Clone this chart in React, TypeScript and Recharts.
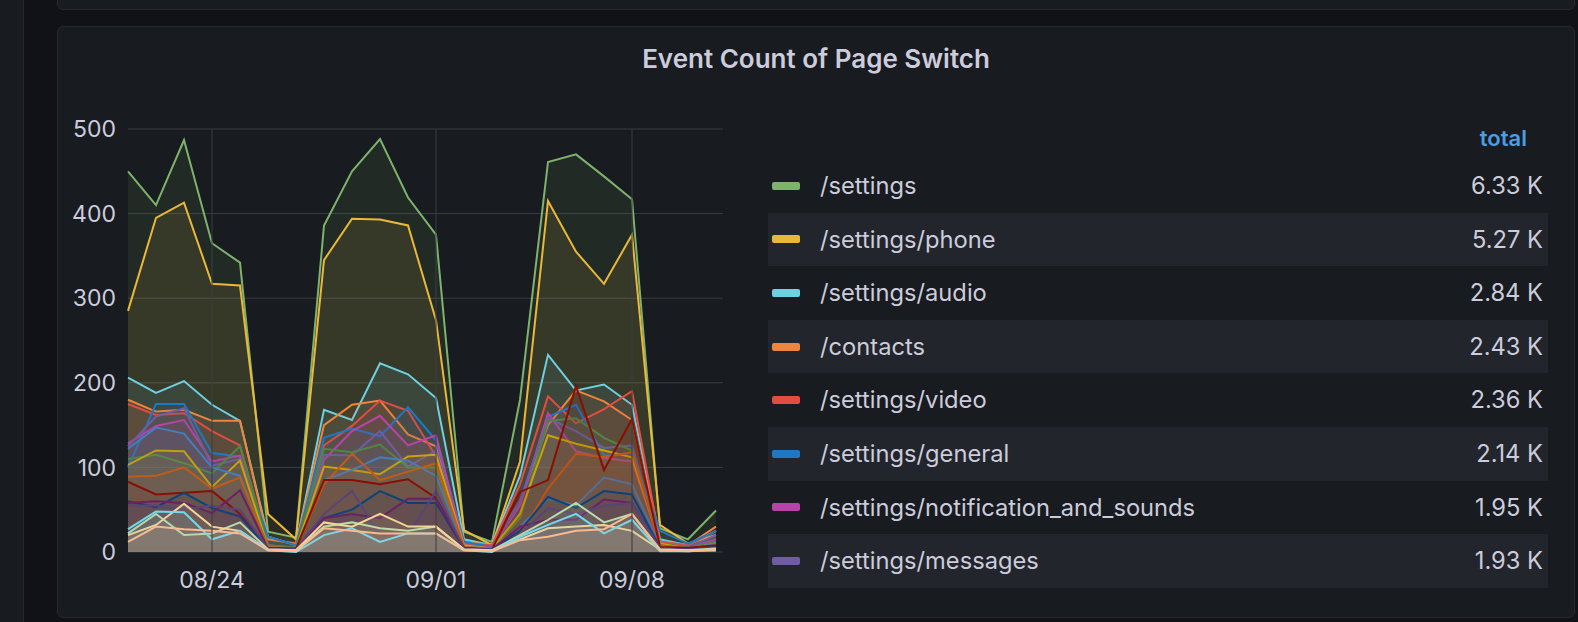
import React from 'react';
import { AreaChart, Area, XAxis, YAxis, CartesianGrid, ReferenceLine } from 'recharts';

const dates = [
  '08/21', '08/22', '08/23', '08/24', '08/25', '08/26', '08/27', '08/28', '08/29', '08/30', '08/31',
  '09/01', '09/02', '09/03', '09/04', '09/05', '09/06', '09/07', '09/08', '09/09', '09/10', '09/11',
];
const xTicks = ['08/24', '09/01', '09/08'];
const yTicks = [0, 100, 200, 300, 400, 500];

// legend series
const settings = [450, 410, 487, 365, 342, 24, 17, 386, 450, 488, 419, 375, 24, 12, 180, 461, 470, 444, 417, 28, 15, 49];
const settingsPhone = [285, 395, 413, 317, 315, 45, 15, 345, 394, 393, 386, 274, 26, 8, 107, 415, 355, 317, 375, 32, 10, 20];
const settingsAudio = [206, 188, 202, 174, 155, 18, 8, 168, 156, 223, 210, 182, 15, 8, 90, 233, 191, 198, 174, 15, 8, 25];
const contacts = [180, 166, 168, 155, 155, 15, 10, 150, 174, 179, 139, 125, 12, 8, 60, 150, 191, 178, 156, 12, 8, 30];
const settingsVideo = [175, 162, 164, 143, 126, 8, 5, 126, 149, 179, 167, 113, 10, 8, 80, 184, 152, 169, 190, 12, 8, 25];
const settingsGeneral = [100, 175, 175, 117, 113, 18, 8, 135, 146, 137, 171, 132, 12, 6, 60, 160, 174, 114, 117, 25, 10, 25];
const settingsNotif = [128, 149, 156, 107, 114, 6, 5, 109, 143, 161, 126, 138, 8, 5, 55, 164, 119, 111, 107, 10, 5, 15];
const settingsMessages = [125, 160, 170, 102, 110, 6, 4, 115, 114, 143, 101, 120, 6, 4, 60, 158, 143, 123, 126, 10, 5, 20];

// series below the visible part of the legend
const other1 = [110, 115, 105, 93, 125, 8, 5, 122, 118, 127, 100, 100, 6, 4, 40, 155, 158, 135, 120, 10, 5, 12];
const other2 = [103, 120, 119, 77, 108, 6, 4, 101, 97, 92, 113, 115, 8, 4, 45, 138, 128, 120, 112, 10, 4, 10];
const other3 = [122, 147, 140, 100, 90, 6, 4, 85, 97, 112, 108, 90, 6, 4, 30, 63, 55, 88, 80, 8, 4, 10];
const other4 = [89, 90, 100, 75, 88, 6, 4, 80, 116, 85, 95, 105, 6, 4, 20, 75, 116, 112, 118, 8, 4, 8];
const other5 = [83, 68, 70, 72, 45, 5, 4, 85, 85, 80, 86, 64, 5, 3, 71, 85, 196, 97, 157, 6, 5, 8];
const other6 = [60, 53, 70, 52, 42, 4, 3, 40, 50, 72, 58, 58, 4, 3, 25, 65, 52, 72, 68, 5, 3, 6];
const other7 = [58, 60, 58, 46, 73, 4, 3, 40, 45, 40, 63, 63, 4, 3, 30, 38, 38, 62, 58, 5, 3, 5];
const other8 = [55, 55, 50, 55, 50, 4, 3, 45, 72, 20, 20, 72, 4, 3, 20, 52, 45, 55, 58, 4, 3, 5];
const other9 = [22, 45, 20, 22, 35, 3, 2, 30, 35, 28, 25, 30, 3, 2, 20, 38, 58, 35, 45, 3, 2, 4];
const other10 = [20, 32, 57, 30, 25, 3, 2, 35, 30, 45, 30, 30, 3, 2, 15, 28, 30, 32, 25, 3, 2, 3];
const other11 = [27, 48, 47, 15, 25, 2, 0, 20, 28, 12, 22, 22, 2, 0, 18, 32, 45, 22, 38, 1, 1, 2];
const other12 = [12, 30, 27, 25, 22, 2, 1, 28, 25, 22, 22, 22, 2, 1, 14, 18, 25, 27, 45, 2, 1, 3];

const legendTotals = ['6.33 K', '5.27 K', '2.84 K', '2.43 K', '2.36 K', '2.14 K', '1.95 K', '1.93 K'];

const series = [
  { key: 's0', name: '/settings', color: '#7EB26D', values: settings },
  { key: 's1', name: '/settings/phone', color: '#EAB839', values: settingsPhone },
  { key: 's2', name: '/settings/audio', color: '#6ED0E0', values: settingsAudio },
  { key: 's3', name: '/contacts', color: '#EF843C', values: contacts },
  { key: 's4', name: '/settings/video', color: '#E24D42', values: settingsVideo },
  { key: 's5', name: '/settings/general', color: '#1F78C1', values: settingsGeneral },
  { key: 's6', name: '/settings/notification_and_sounds', color: '#BA43A9', values: settingsNotif },
  { key: 's7', name: '/settings/messages', color: '#705DA0', values: settingsMessages },
  { key: 's8', name: 'other1', color: '#508642', values: other1 },
  { key: 's9', name: 'other2', color: '#CCA300', values: other2 },
  { key: 's10', name: 'other3', color: '#447EBC', values: other3 },
  { key: 's11', name: 'other4', color: '#C15C17', values: other4 },
  { key: 's12', name: 'other5', color: '#890F02', values: other5 },
  { key: 's13', name: 'other6', color: '#0A437C', values: other6 },
  { key: 's14', name: 'other7', color: '#6D1F62', values: other7 },
  { key: 's15', name: 'other8', color: '#584477', values: other8 },
  { key: 's16', name: 'other9', color: '#B7DBAB', values: other9 },
  { key: 's17', name: 'other10', color: '#F4D598', values: other10 },
  { key: 's18', name: 'other11', color: '#70DBED', values: other11 },
  { key: 's19', name: 'other12', color: '#F9BA8F', values: other12 },
];

const data = dates.map((d, i) => {
  const row: Record<string, number | string> = { date: d };
  series.forEach((s) => { row[s.key] = s.values[i]; });
  return row;
});

const FONT = 'Inter, "Noto Sans", sans-serif';
const TEXT = '#ccccdc';
const GRID = '#3a3c42';

const panel: React.CSSProperties = {
  position: 'absolute',
  background: '#181b1f',
  border: '1px solid #26282d',
  borderRadius: 6,
  boxSizing: 'border-box',
};

export default function App() {
  return (
    <div style={{ position: 'absolute', left: 0, top: 0, width: 1578, height: 622, background: '#111217', overflow: 'hidden', fontFamily: FONT }}>
      <div style={{ position: 'absolute', left: 0, top: 0, width: 23, height: 622, background: '#181b1f', borderRight: '1px solid #24262b' }} />
      <div style={{ ...panel, left: 57, top: -12, width: 1518, height: 22 }} />
      <div style={{ ...panel, left: 57, top: 26, width: 1518, height: 592 }} />

      <div style={{ position: 'absolute', left: 57, width: 1518, top: 43, textAlign: 'center', color: TEXT, fontSize: 26, fontWeight: 600, lineHeight: '32px' }}>
        Event Count of Page Switch
      </div>

      <div style={{ position: 'absolute', left: 0, top: 0 }}>
        <AreaChart width={760} height={622} data={data} margin={{ top: 129, right: 37, bottom: 30, left: 68 }}>
          <CartesianGrid stroke={GRID} strokeWidth={1} vertical={false} />
          {xTicks.map((t) => (
            <ReferenceLine key={t} x={t} stroke={GRID} strokeWidth={1} />
          ))}
          <XAxis
            dataKey="date"
            ticks={xTicks}
            interval={0}
            height={40}
            tickSize={0}
            tickMargin={20}
            axisLine={false}
            tickLine={false}
            padding={{ left: 0, right: 7 }}
            tick={{ fill: TEXT, fontSize: 23, fontFamily: FONT }}
          />
          <YAxis
            type="number"
            domain={[0, 500]}
            ticks={yTicks}
            width={60}
            tickSize={0}
            tickMargin={12}
            axisLine={false}
            tickLine={false}
            tick={{ fill: TEXT, fontSize: 23, fontFamily: FONT }}
          />
          {series.map((s) => (
            <Area
              key={s.key}
              type="linear"
              dataKey={s.key}
              name={s.name}
              stroke={s.color}
              strokeWidth={2}
              fill={s.color}
              fillOpacity={0.1}
              dot={false}
              activeDot={false}
              isAnimationActive={false}
            />
          ))}
        </AreaChart>
      </div>

      <div style={{ position: 'absolute', left: 1300, width: 227, top: 124, textAlign: 'right', color: '#4a9ee6', fontSize: 22, fontWeight: 600, lineHeight: '28px' }}>
        total
      </div>
      {series.slice(0, 8).map((s, i) => (
        <div
          key={s.key}
          style={{
            position: 'absolute',
            left: 768,
            top: 159 + i * 53.6,
            width: 780,
            height: 53.6,
            background: i % 2 === 1 ? '#22252b' : 'transparent',
            color: TEXT,
            fontSize: 23.7,
          }}
        >
          <div style={{ position: 'absolute', left: 4, top: 22.8, width: 28, height: 8, borderRadius: 2, background: s.color }} />
          <div style={{ position: 'absolute', left: 52, top: 0, lineHeight: '53.6px', whiteSpace: 'nowrap' }}>{s.name}</div>
          <div style={{ position: 'absolute', right: 5, top: 0, lineHeight: '53.6px', whiteSpace: 'nowrap' }}>{legendTotals[i]}</div>
        </div>
      ))}
    </div>
  );
}
